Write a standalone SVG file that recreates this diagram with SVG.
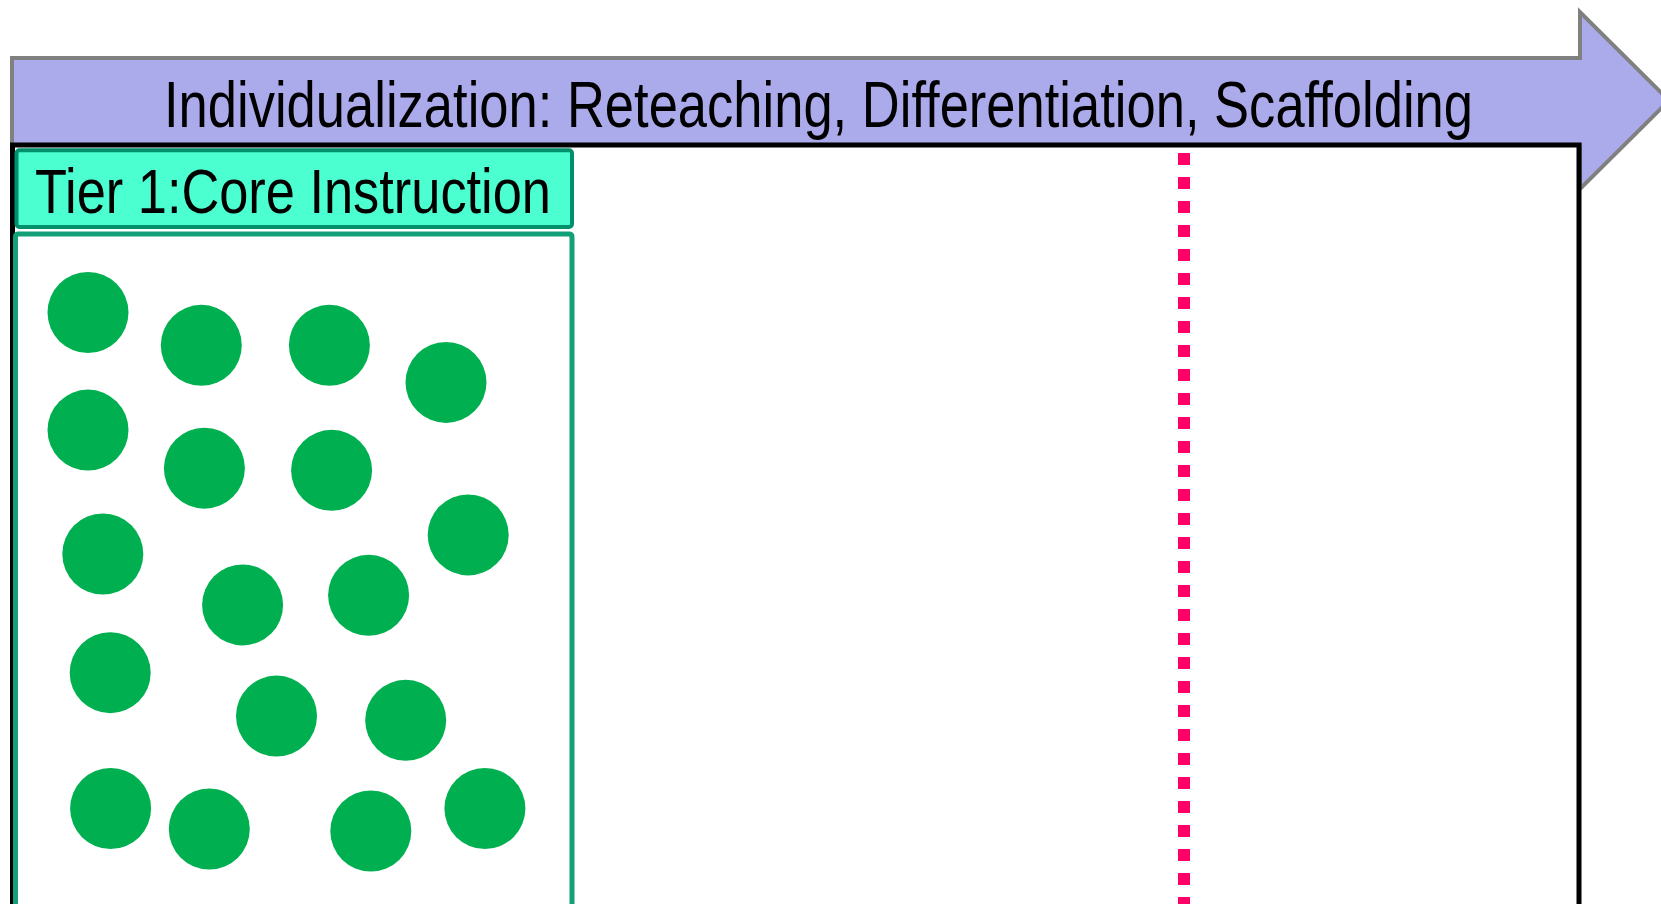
<svg xmlns="http://www.w3.org/2000/svg" width="1661" height="904" viewBox="0 0 1661 904">
<style>
.txt{font-family:"Liberation Sans",Arial,sans-serif;fill:#000}
.dot{fill:#00B050}
</style>
<rect width="1661" height="904" fill="#fff"/>
<g id="arrow">
<polygon points="12,58 1580,58 1580,12 1669,100.5 1580,189 1580,145 12,145" fill="#ABABEB" stroke="#808080" stroke-width="4"/>
<text class="txt" x="164" y="127" font-size="64" textLength="1309" lengthAdjust="spacingAndGlyphs">Individualization: Reteaching, Differentiation, Scaffolding</text>
</g>
<g id="frame">
<path d="M12.5,920 V145 H1579 V920" fill="none" stroke="#000" stroke-width="5"/>
</g>
<g id="divider">
<line x1="1184" y1="153" x2="1184" y2="904" stroke="#FF0066" stroke-width="12" stroke-dasharray="12 12"/>
</g>
<g id="tier1-label">
<rect x="16.5" y="150.3" width="555.5" height="76.7" rx="3" fill="#4BFFD0" stroke="#00906C" stroke-width="4"/>
<text class="txt" x="35" y="213" font-size="63" textLength="516" lengthAdjust="spacingAndGlyphs">Tier 1:Core Instruction</text>
</g>
<g id="tier1-box">
<path d="M15.5,920 V237 Q15.5,234 18.5,234 H569 Q572,234 572,237 V920" fill="none" stroke="#12A078" stroke-width="5"/>
<circle class="dot" cx="88" cy="312.5" r="40.5"/>
<circle class="dot" cx="201.3" cy="345.3" r="40.5"/>
<circle class="dot" cx="329.4" cy="345.3" r="40.5"/>
<circle class="dot" cx="446" cy="382.4" r="40.5"/>
<circle class="dot" cx="88" cy="430.1" r="40.5"/>
<circle class="dot" cx="204.4" cy="468.2" r="40.5"/>
<circle class="dot" cx="331.6" cy="470.3" r="40.5"/>
<circle class="dot" cx="102.8" cy="554" r="40.5"/>
<circle class="dot" cx="468.2" cy="534.9" r="40.5"/>
<circle class="dot" cx="242.6" cy="604.9" r="40.5"/>
<circle class="dot" cx="368.6" cy="595.3" r="40.5"/>
<circle class="dot" cx="110.2" cy="672.7" r="40.5"/>
<circle class="dot" cx="276.5" cy="716.1" r="40.5"/>
<circle class="dot" cx="405.7" cy="720.3" r="40.5"/>
<circle class="dot" cx="110.6" cy="808.5" r="40.5"/>
<circle class="dot" cx="209.3" cy="829" r="40.5"/>
<circle class="dot" cx="370.8" cy="831" r="40.5"/>
<circle class="dot" cx="484.9" cy="808.5" r="40.5"/>
</g>
</svg>
